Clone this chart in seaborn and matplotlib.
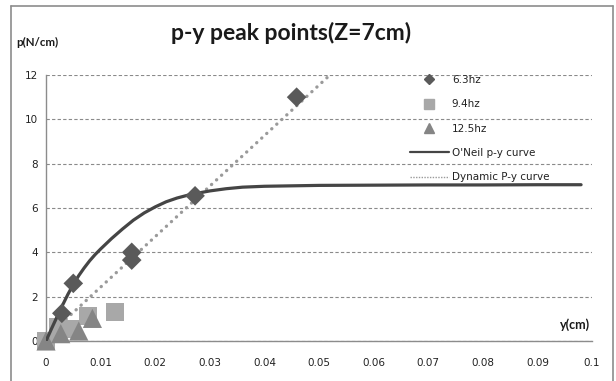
import matplotlib
matplotlib.use("Agg")
import matplotlib.pyplot as plt
import seaborn as sns
import pandas as pd
from matplotlib.lines import Line2D

# ---- data ----
d63_x = [0.0029, 0.0050, 0.0157, 0.0157, 0.0273, 0.0459]
d63_y = [1.25, 2.60, 4.00, 3.65, 6.55, 11.00]

d94_x = [0.0, 0.0021, 0.0045, 0.0077, 0.0126]
d94_y = [0.0, 0.62, 0.55, 1.12, 1.31]

d125_x = [0.0, 0.0027, 0.0060, 0.0085]
d125_y = [0.0, 0.33, 0.45, 1.02]

oneil_x = [0.0, 0.001, 0.002, 0.003, 0.004, 0.005, 0.006, 0.007, 0.008, 0.009, 0.010,
           0.012, 0.014, 0.016, 0.018, 0.020, 0.022, 0.024, 0.026, 0.028, 0.030,
           0.033, 0.036, 0.040, 0.045, 0.050, 0.060, 0.070, 0.080, 0.090, 0.098]
oneil_y = [0.0, 0.55, 1.08, 1.6, 2.1, 2.55, 2.95, 3.3, 3.62, 3.9, 4.15,
           4.62, 5.05, 5.45, 5.78, 6.05, 6.28, 6.45, 6.58, 6.68, 6.77,
           6.87, 6.94, 6.98, 7.0, 7.02, 7.03, 7.04, 7.04, 7.05, 7.05]

dyn_x = [0.0, 0.052]
dyn_y = [0.15, 12.0]

x_ticks = [0, 0.01, 0.02, 0.03, 0.04, 0.05, 0.06, 0.07, 0.08, 0.09, 0.1]
x_tick_labels = ["0", "0.01", "0.02", "0.03", "0.04", "0.05", "0.06", "0.07", "0.08", "0.09", "0.1"]
y_ticks = [0, 2, 4, 6, 8, 10, 12]

series_labels = ["6.3hz", "9.4hz", "12.5hz", "O'Neil p-y curve", "Dynamic P-y curve"]

# ---- styling ----
sns.set_theme(style="white")
plt.rcParams['font.family'] = ['DejaVu Sans']

W, H = 616, 381
fig = plt.figure(figsize=(W / 100, H / 100), dpi=100)
ax = fig.add_axes([46 / W, 1 - 341 / H, (592 - 46) / W, (341 - 75) / H])

c_d = "#5a5a5a"
c_s = "#a8a8a8"
c_t = "#858585"
c_line = "#454545"
c_dot = "#9a9a9a"

df_o = pd.DataFrame({"x": oneil_x, "y": oneil_y})
df_dyn = pd.DataFrame({"x": dyn_x, "y": dyn_y})
sns.lineplot(data=df_dyn, x="x", y="y", ax=ax, color=c_dot, linestyle=(0, (0.05, 2.0)),
             linewidth=2.4, sort=False, zorder=2)
ax.lines[-1].set_dash_capstyle("round")
sns.lineplot(data=df_o, x="x", y="y", ax=ax, color=c_line, linewidth=2.3, sort=False, zorder=4)

sns.scatterplot(x=d94_x, y=d94_y, ax=ax, marker="s", s=160, color=c_s, edgecolor="none",
                zorder=3, clip_on=False)
sns.scatterplot(x=d125_x, y=d125_y, ax=ax, marker="^", s=190, color=c_t, edgecolor="none",
                zorder=3, clip_on=False)
sns.scatterplot(x=d63_x, y=d63_y, ax=ax, marker="D", s=100, color=c_d, edgecolor="none",
                zorder=5, clip_on=False)

ax.set_xlim(0, 0.1)
ax.set_ylim(0, 12)
ax.set_xticks(x_ticks)
ax.set_xticklabels(x_tick_labels)
ax.set_yticks(y_ticks)
ax.set_xlabel("")
ax.set_ylabel("")
ax.tick_params(axis="both", labelsize=7.5, colors="#222222", length=0, pad=6)
ax.tick_params(axis="x", direction="in", length=3, width=0.8, color="#888888", pad=12)
ax.yaxis.grid(True, linestyle=(0, (3, 2)), color="#8a8a8a", linewidth=0.8)
ax.xaxis.grid(False)
for s in ["top", "right"]:
    ax.spines[s].set_visible(False)
for s in ["left", "bottom"]:
    ax.spines[s].set_color("#8c8c8c")
    ax.spines[s].set_linewidth(1.0)

# legend
handles = [
    Line2D([], [], marker="D", linestyle="none", color=c_d, markersize=5),
    Line2D([], [], marker="s", linestyle="none", color=c_s, markersize=6.5),
    Line2D([], [], marker="^", linestyle="none", color=c_t, markersize=7),
    Line2D([], [], color=c_line, linewidth=1.6),
    Line2D([], [], color=c_dot, linewidth=1.0, linestyle=(0, (1, 1))),
]
leg = ax.legend(handles, series_labels, loc="upper left", bbox_to_anchor=(0.667, 1.0),
                frameon=False, fontsize=7.5, handlelength=3.7, handletextpad=0.3,
                labelspacing=1.38, borderpad=0, borderaxespad=0)
for t in leg.get_texts():
    t.set_color("#222222")

# titles
fig.text(291 / W, 1 - 33 / H, "p-y peak points(Z=7cm)", ha="center", va="center",
         fontsize=16.5, fontweight="bold", family=["Lato", "DejaVu Sans"], color="#1a1a1a")
fig.text(16 / W, 1 - 42 / H, "p(N/cm)", ha="left", va="center", fontsize=8.3,
         fontweight="bold", family=["Lato", "DejaVu Sans"], color="#1a1a1a")
fig.text(575 / W, 1 - 325 / H, "y(cm)", ha="center", va="center", fontsize=9,
         fontweight="bold", family=["Lato", "DejaVu Sans"], color="#1a1a1a")

# outer chart border (left, top, right)
bx0, by0, bx1 = 11 / W, 1 - 6 / H, 612.5 / W
for xs, ys in [([bx0, bx0], [0, by0]), ([bx0, bx1], [by0, by0]), ([bx1, bx1], [by0, 0])]:
    fig.add_artist(Line2D(xs, ys, transform=fig.transFigure, color="#8c8c8c", linewidth=1.2))

fig.savefig("out.png", dpi=100)
